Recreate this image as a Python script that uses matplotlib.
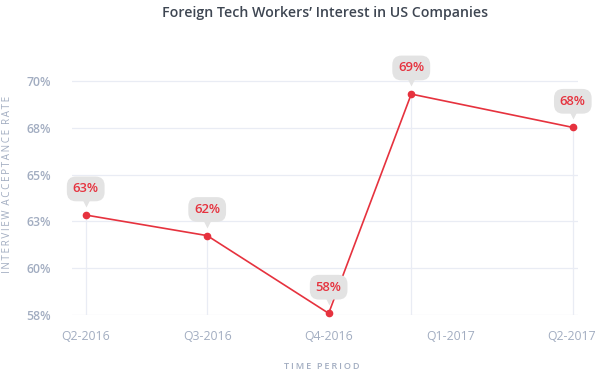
import math
import matplotlib
matplotlib.use("Agg")
import matplotlib.pyplot as plt
from matplotlib.transforms import offset_copy

plt.rcParams['font.family'] = ['Open Sans', 'DejaVu Sans']

# data
quarters = ['Q2-2016', 'Q3-2016', 'Q4-2016', 'Q1-2017', 'Q2-2017']
x_pos = [0, 1, 2, 2.68, 4.01]          # where the points sit (uneven in the original)
rate = [62.84, 61.74, 57.59, 69.3, 67.52]
y_ticks = [57.5, 60, 62.5, 65, 67.5, 70]

red = '#e6323e'
gray_txt = '#a2adc1'
grid_c = '#e9ecf4'
bubble = '#e3e3e3'

fig = plt.figure(figsize=(5.98, 3.73), dpi=100)
ax = fig.add_axes([0.120, 0.1555, 0.846, 0.6525])
ax.set_xlim(-0.115, 4.05)
ax.set_ylim(57.5, 70.5)

for s in ax.spines.values():
    s.set_visible(False)

# horizontal grid
for v in y_ticks:
    ax.axhline(v, color=grid_c, lw=0.9, zorder=0)
# drop lines from each point
for xv, yv in zip(x_pos, rate):
    ax.plot([xv, xv], [57.5, yv], color=grid_c, lw=0.9, zorder=0)

ax.plot(x_pos, rate, color=red, lw=1.2, marker='o', ms=4.5, zorder=3, clip_on=False)

ax.set_yticks(y_ticks)
ax.set_yticklabels(['%d%%' % math.floor(v + 0.5) for v in y_ticks])
ax.set_xticks(range(len(quarters)))
ax.set_xticklabels(quarters)
ax.tick_params(axis='both', length=0, colors=gray_txt)
ax.tick_params(axis='y', pad=15, labelsize=8.8)
ax.tick_params(axis='x', pad=11, labelsize=8.8)
for t in ax.get_yticklabels():
    t.set_fontweight('semibold')

# bubbles
tri = offset_copy(ax.transData, fig=fig, x=0, y=8.6, units='points')
for xv, yv in zip(x_pos, rate):
    ax.annotate('%d%%' % math.floor(yv + 0.5), (xv, yv), xytext=(0, 18.8),
                textcoords='offset points', ha='center', va='center',
                fontsize=9.4, fontweight='semibold', color=red, zorder=5,
                annotation_clip=False,
                bbox=dict(boxstyle='round,pad=0.45,rounding_size=0.7',
                          fc=bubble, ec='none'))
    ax.plot(xv, yv, marker='v', ms=5.5, color=bubble, mec='none',
            transform=tri, zorder=4, clip_on=False)

fig.text(0.5435, 0.966, 'Foreign Tech Workers\u2019 Interest in US Companies',
         ha='center', va='center', fontsize=10.2, color='#3e4652',
         fontweight='semibold')
fig.text(0.012, 0.505, 'I N T E R V I E W   A C C E P T A N C E   R A T E'.replace(' ', '\u2009'),
         rotation=90, ha='center', va='center', fontsize=7.1, color=gray_txt)
fig.text(0.538, 0.018, 'T I M E   P E R I O D'.replace(' ', '\u2009'),
         ha='center', va='center', fontsize=6.6, color=gray_txt,
         fontweight='semibold')

fig.savefig('out.png', dpi=100)
